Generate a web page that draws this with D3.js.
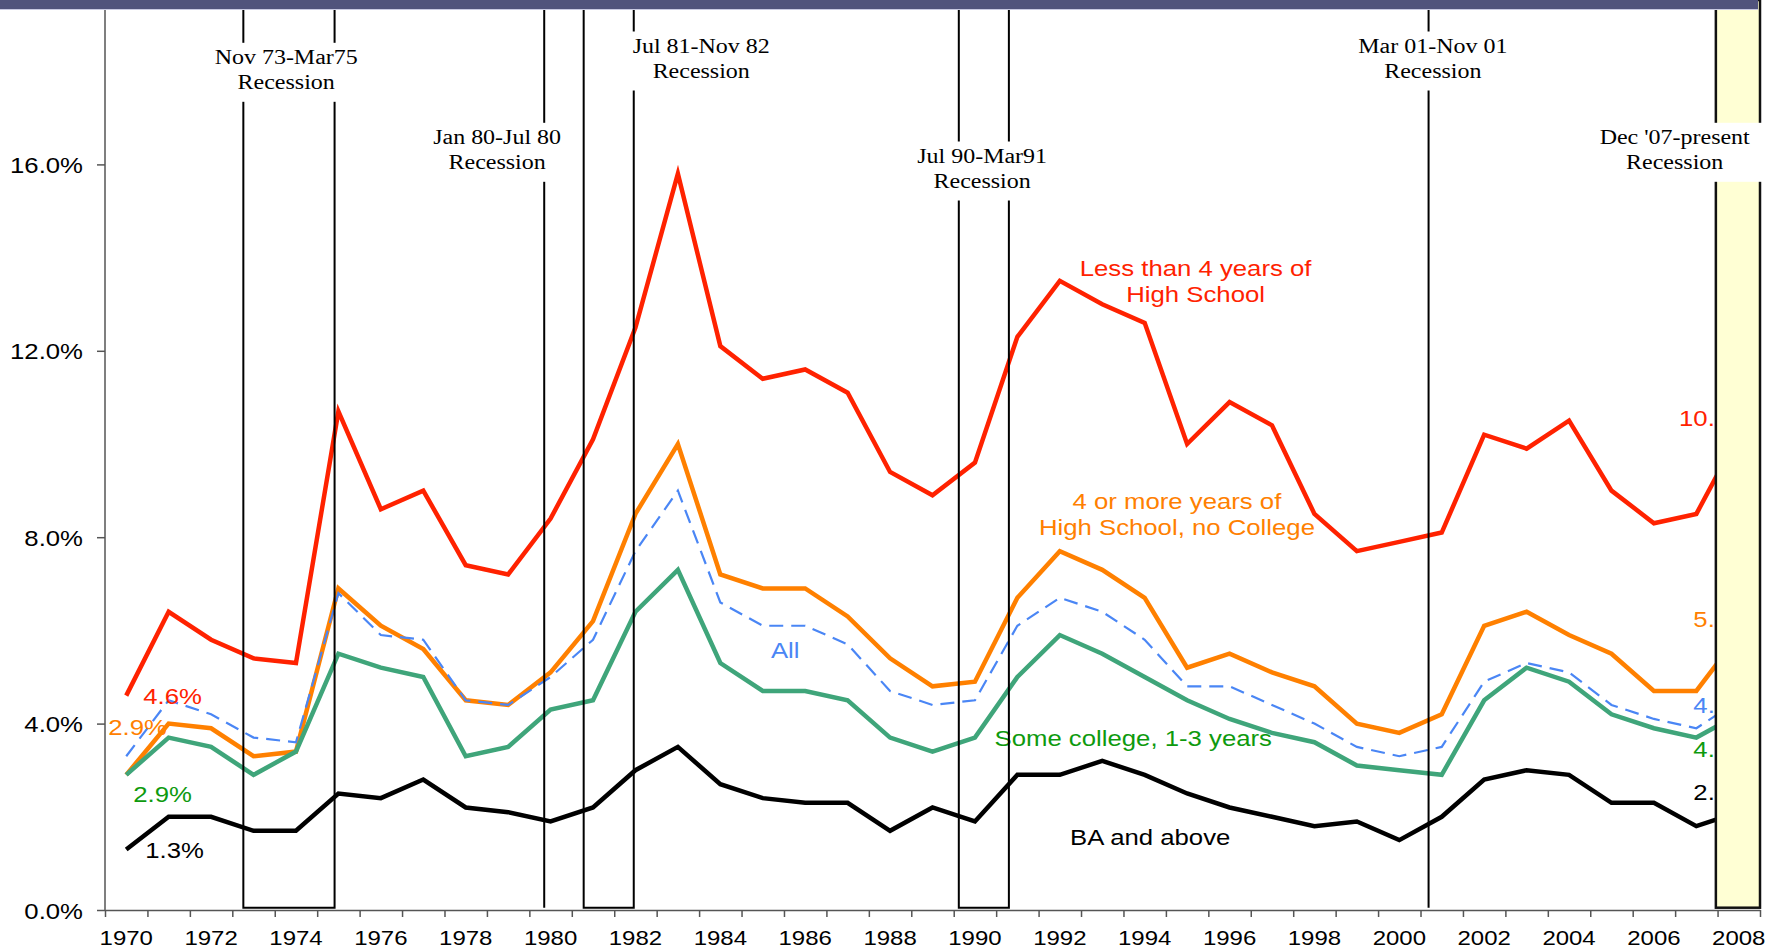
<!DOCTYPE html>
<html>
<head>
<meta charset="utf-8">
<script src="https://cdn.jsdelivr.net/npm/d3@7"></script>
<style>
  body { margin: 0; background: #fff; }
  svg { display: block; }
</style>
</head>
<body>
<div id="chart"></div>
<script>
var width = 1780,
    height = 950,
    stretch = 1.17,
    sans = "'Liberation Sans', Arial, sans-serif",
    serif = "'Liberation Serif', 'Times New Roman', serif";

// ---- data ----
var years = [1970, 1971, 1972, 1973, 1974, 1975, 1976, 1977, 1978, 1979,
             1980, 1981, 1982, 1983, 1984, 1985, 1986, 1987, 1988, 1989,
             1990, 1991, 1992, 1993, 1994, 1995, 1996, 1997, 1998, 1999,
             2000, 2001, 2002, 2003, 2004, 2005, 2006, 2007, 2008];

var lessHS = [4.6, 6.4, 5.8, 5.4, 5.3, 10.7, 8.6, 9.0, 7.4, 7.2,
              8.4, 10.1, 12.5, 15.8, 12.1, 11.4, 11.6, 11.1, 9.4, 8.9,
              9.6, 12.3, 13.5, 13.0, 12.6, 10.0, 10.9, 10.4, 8.5, 7.7,
              7.9, 8.1, 10.2, 9.9, 10.5, 9.0, 8.3, 8.5, 10.2];

var highSchool = [2.9, 4.0, 3.9, 3.3, 3.4, 6.9, 6.1, 5.6, 4.5, 4.4,
                  5.1, 6.2, 8.5, 10.0, 7.2, 6.9, 6.9, 6.3, 5.4, 4.8,
                  4.9, 6.7, 7.7, 7.3, 6.7, 5.2, 5.5, 5.1, 4.8, 4.0,
                  3.8, 4.2, 6.1, 6.4, 5.9, 5.5, 4.7, 4.7, 5.9];

var allWorkers = [3.3, 4.5, 4.2, 3.7, 3.6, 6.8, 5.9, 5.8, 4.5, 4.4,
                  5.0, 5.8, 7.7, 9.0, 6.6, 6.1, 6.1, 5.7, 4.7, 4.4,
                  4.5, 6.1, 6.7, 6.4, 5.8, 4.8, 4.8, 4.4, 4.0, 3.5,
                  3.3, 3.5, 4.9, 5.3, 5.1, 4.4, 4.1, 3.9, 4.5];

var someCollege = [2.9, 3.7, 3.5, 2.9, 3.4, 5.5, 5.2, 5.0, 3.3, 3.5,
                   4.3, 4.5, 6.4, 7.3, 5.3, 4.7, 4.7, 4.5, 3.7, 3.4,
                   3.7, 5.0, 5.9, 5.5, 5.0, 4.5, 4.1, 3.8, 3.6, 3.1,
                   3.0, 2.9, 4.5, 5.2, 4.9, 4.2, 3.9, 3.7, 4.2];

var baPlus = [1.3, 2.0, 2.0, 1.7, 1.7, 2.5, 2.4, 2.8, 2.2, 2.1,
              1.9, 2.2, 3.0, 3.5, 2.7, 2.4, 2.3, 2.3, 1.7, 2.2,
              1.9, 2.9, 2.9, 3.2, 2.9, 2.5, 2.2, 2.0, 1.8, 1.9,
              1.5, 2.0, 2.8, 3.0, 2.9, 2.3, 2.3, 1.8, 2.1];

var yTicks = [0, 4, 8, 12, 16];
var xLabelYears = [1970, 1972, 1974, 1976, 1978, 1980, 1982, 1984, 1986, 1988,
                   1990, 1992, 1994, 1996, 1998, 2000, 2002, 2004, 2006, 2008];

// recessions, in year units on the category axis
var recessionNames = ["Nov 73-Mar75", "Jan 80-Jul 80", "Jul 81-Nov 82",
                      "Jul 90-Mar91", "Mar 01-Nov 01", "Dec '07-present"];
var recessionStart = [1973.26, 1980.35, 1981.28, 1990.12, 2001.19, 2007.96];
var recessionEnd   = [1975.41, null,    1982.46, 1991.30, null,    2009.0];

// ---- layout ----
var svg = d3.select("#chart").append("svg")
    .attr("width", width)
    .attr("height", height);

var plotTop = 9, boxBottom = 907.7;

var x = d3.scaleBand().domain(years).range([105, 1760]);
var xPos = d3.scaleLinear().domain([years[0], years[years.length - 1] + 1]).range([105, 1760]);
var y = d3.scaleLinear().domain([0, 16]).range([910, 164.4]);

function cx(i) { return x(years[i]) + x.bandwidth() / 2; }

function stretchedText(g, px, py, txt, size, fill, anchor, family) {
    return g.append("text")
        .attr("transform", "translate(" + px + "," + py + ") scale(" + stretch + ",1)")
        .attr("text-anchor", anchor || "start")
        .style("font-family", family || sans)
        .style("font-size", size + "px")
        .attr("fill", fill)
        .text(txt);
}

// ---- axes ----
var axisColor = "#555";

var yAxis = svg.append("g")
    .attr("transform", "translate(105,0)")
    .call(d3.axisLeft(y).tickValues(yTicks).tickSize(8).tickSizeOuter(0)
        .tickFormat(function (d) { return d3.format(".1f")(d) + "%"; }));
yAxis.select(".domain").remove();
yAxis.append("line")
    .attr("y1", plotTop).attr("y2", y(0))
    .attr("stroke", axisColor).attr("stroke-width", 1.5);
yAxis.selectAll(".tick line").attr("stroke", axisColor).attr("stroke-width", 1.5);
yAxis.selectAll(".tick text")
    .attr("x", null).attr("dy", null)
    .attr("transform", "translate(-22,8) scale(" + stretch + ",1)")
    .attr("fill", "#000")
    .style("font-family", sans).style("font-size", "22px");

var xTicks = svg.append("g")
    .attr("transform", "translate(0," + y(0) + ")")
    .call(d3.axisBottom(xPos).tickValues(years.concat([xPos.domain()[1]]))
        .tickSize(7).tickSizeOuter(0).tickFormat(""));
xTicks.select(".domain").attr("stroke", axisColor).attr("stroke-width", 1.5);
xTicks.selectAll(".tick line").attr("stroke", axisColor).attr("stroke-width", 1.5);

var xLabels = svg.append("g")
    .attr("transform", "translate(0," + y(0) + ")")
    .call(d3.axisBottom(x).tickValues(xLabelYears).tickSize(0));
xLabels.select(".domain").remove();
xLabels.selectAll(".tick text")
    .attr("y", null).attr("dy", null)
    .attr("transform", "translate(0,35) scale(" + stretch + ",1)")
    .attr("fill", "#000")
    .style("font-family", sans).style("font-size", "20.5px");

// ---- series ----
var series = [
    {values: lessHS,      color: "#FF2200", text: "#FF2200", width: 4.5, dash: null,
     first: [17, 8],   last: -8.7},
    {values: highSchool,  color: "#FF8000", text: "#FF8000", width: 4.5, dash: null,
     first: [-18, -40], last: -8},
    {values: someCollege, color: "#3FA57A", text: "#0E9A0E", width: 4.5, dash: null,
     first: [7, 27],   last: 42.7},
    {values: baPlus,      color: "#000000", text: "#000000", width: 4.5, dash: null,
     first: [19, 8.6], last: -12.5},
    {values: allWorkers,  color: "#4A86F5", text: "#4A86F5", width: 2.2, dash: "14,8",
     first: null,      last: 12.7}
];

var line = d3.line()
    .x(function (d, i) { return cx(i); })
    .y(function (d) { return y(d); });

var fmt = function (v) { return d3.format(".1f")(v) + "%"; };
var lineG = svg.append("g");
var labelG = svg.append("g");

series.forEach(function (s) {
    lineG.append("path")
        .datum(s.values)
        .attr("d", line)
        .attr("fill", "none")
        .attr("stroke", s.color)
        .attr("stroke-width", s.width)
        .attr("stroke-linejoin", "miter")
        .attr("stroke-dasharray", s.dash);
    if (s.first) {
        stretchedText(labelG, cx(0) + s.first[0], y(s.values[0]) + s.first[1],
            fmt(s.values[0]), 22, s.text, "start");
    }
    var n = s.values.length - 1;
    stretchedText(labelG, 1752, y(s.values[n]) + s.last, fmt(s.values[n]), 22, s.text, "end");
});

// series names
var names = [
    {lines: ["Less than 4 years of", "High School"], at: 1995.70, v: 13.6, color: "#FF2200"},
    {lines: ["4 or more years of", "High School, no College"], at: 1995.26, v: 8.61, color: "#FF8000"},
    {lines: ["All"], at: 1986.03, v: 5.41, color: "#4A86F5"},
    {lines: ["Some college, 1-3 years"], at: 1994.23, v: 3.53, color: "#0E9A0E"},
    {lines: ["BA and above"], at: 1994.63, v: 1.39, color: "#000000"}
];
names.forEach(function (n) {
    n.lines.forEach(function (t, k) {
        stretchedText(labelG, xPos(n.at), y(n.v) + k * 26, t, 22, n.color, "middle");
    });
});

// ---- recessions ----
var recG = svg.append("g");
recessionNames.forEach(function (name, i) {
    var x0 = xPos(recessionStart[i]);
    if (recessionEnd[i] === null) {
        recG.append("path")
            .attr("d", "M" + x0 + "," + plotTop + "V" + boxBottom)
            .attr("fill", "none").attr("stroke", "#000").attr("stroke-width", 2);
    } else if (i === recessionNames.length - 1) {
        recG.append("rect")
            .attr("x", x0).attr("y", plotTop - 9)
            .attr("width", xPos(recessionEnd[i]) - x0).attr("height", boxBottom - plotTop + 9)
            .attr("fill", "#FFFFD4").attr("stroke", "#111").attr("stroke-width", 2.5);
    } else {
        var x1 = xPos(recessionEnd[i]);
        recG.append("path")
            .attr("d", "M" + x0 + "," + plotTop + "V" + boxBottom + "H" + x1 + "V" + plotTop)
            .attr("fill", "none").attr("stroke", "#000").attr("stroke-width", 2);
    }
});

// recession captions
var captionAt = [1974.27, 1979.24, 1984.05, 1990.67, 2001.29, 2006.99];
var captionY = [57.3, 137.3, 46, 156, 46, 137.3];
recessionNames.forEach(function (name, i) {
    var g = recG.append("g");
    var bg = g.append("rect").attr("fill", "#fff");
    var tg = g.append("g");
    stretchedText(tg, xPos(captionAt[i]), captionY[i] + 7, name, 20.5, "#000", "middle", serif);
    stretchedText(tg, xPos(captionAt[i]), captionY[i] + 32, "Recession", 20.5, "#000", "middle", serif);
    var bb = tg.node().getBBox();
    var left = bb.x - 4,
        right = (i === recessionNames.length - 1) ? xPos(recessionEnd[i]) + 3 : bb.x + bb.width + 4;
    bg.attr("x", left).attr("y", captionY[i] - 14.5)
        .attr("width", right - left).attr("height", 59);
});

// ---- top band ----
svg.append("rect").attr("x", 0).attr("y", 0).attr("width", 1758).attr("height", 9).attr("fill", "#50537C");
svg.append("rect").attr("x", 0).attr("y", 9).attr("width", 1758).attr("height", 1).attr("fill", "#C8C9E2");
</script>
</body>
</html>
